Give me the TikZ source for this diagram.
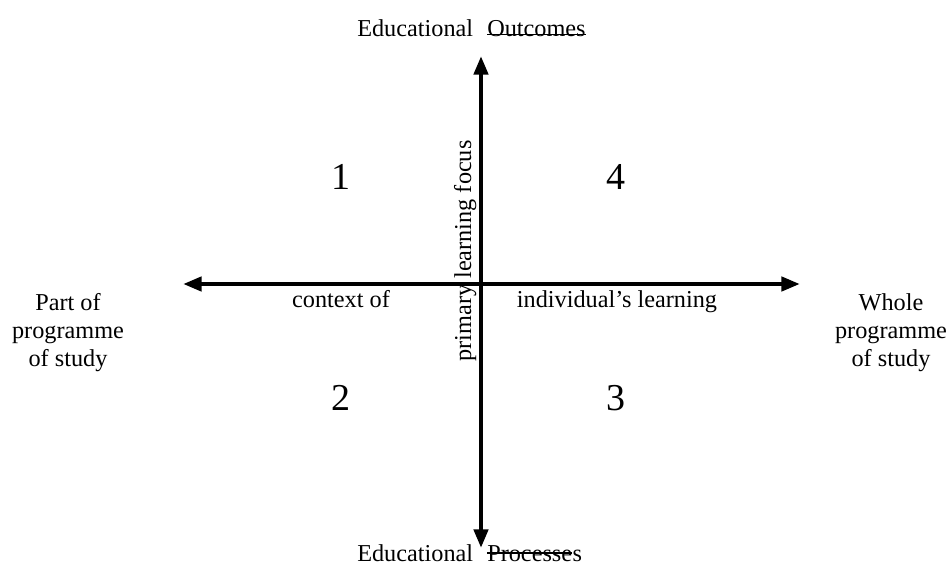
\documentclass[tikz,border=0pt]{standalone}
\usepackage{fontspec}
\setmainfont{Liberation Serif}
\usetikzlibrary{arrows.meta}
\begin{document}
\begin{tikzpicture}[x=0.75pt,y=-0.75pt,
  lbl/.style={inner sep=0pt,font=\fontsize{18.2}{21}\selectfont},
  lblc/.style={lbl,align=center,anchor=base},
  num/.style={inner sep=0pt,anchor=base,font=\fontsize{28.5}{30}\selectfont},
  axis/.style={line width=3.3pt,{Triangle[length=14pt,width=10.5pt]}-{Triangle[length=14pt,width=10.5pt]}},
  strike/.style={line width=0.8pt}]
\useasboundingbox (0,0) rectangle (949,575);
% axes
\coordinate (top) at (481,56);
\coordinate (bottom) at (481,548);
\coordinate (left) at (183,284);
\coordinate (right) at (800,284);
\draw[axis] (bottom) -- (top);
\draw[axis] (left) -- (right);
% top title
\node[lbl,anchor=base west] (t1) at (357,36) {Educational};
\node[lbl,anchor=base west] (t2) at (487,36) {Outcomes};
\draw[strike] ([yshift=1.2pt]t2.base west) -- ([yshift=1.2pt]t2.base east);
% bottom title
\node[lbl,anchor=base west] (b1) at (357,561) {Educational};
\node[lbl,anchor=base west] (b2) at (487,561) {Processe};
\node[lbl,anchor=base west] (b3) at (b2.base east) {s};
\draw[strike] ([yshift=6pt]b2.base west) -- ([yshift=6pt]b2.base east);
% side labels
\node[lblc] (pl) at (68,366) {Part of\\programme\\of study};
\node[lblc] (wl) at (891,366) {Whole\\programme\\of study};
% axis labels
\node[lblc] (ctx) at (341,307) {context of};
\node[lblc] (ind) at (617,307) {individual's learning};
\node[lbl,anchor=base,rotate=90] (plf) at (471,251) {primary learning focus};
% quadrant numbers
\node[num] (q1) at (341,189) {1};
\node[num] (q4) at (616,189) {4};
\node[num] (q2) at (341,410) {2};
\node[num] (q3) at (616,410) {3};
\end{tikzpicture}
\end{document}
